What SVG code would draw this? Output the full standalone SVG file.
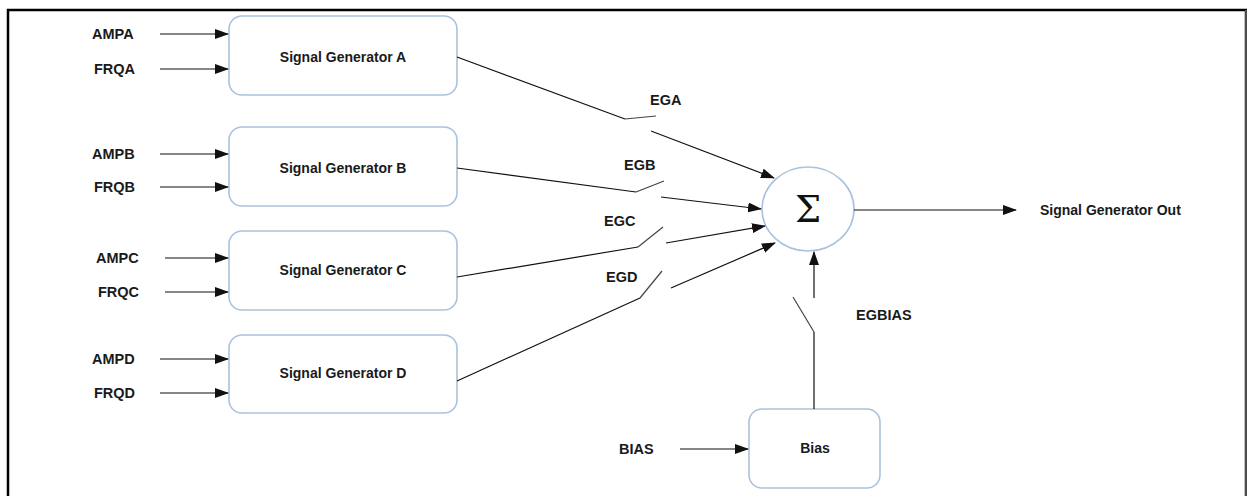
<svg xmlns="http://www.w3.org/2000/svg" width="1247" height="496" viewBox="0 0 1247 496">
<style>
.box{fill:#fff;stroke:#a9c2dd;stroke-width:1.6}
.t{font-family:"Liberation Sans",Arial,sans-serif;font-weight:bold;font-size:14.5px;fill:#1a1a1a}
.s{font-size:14px}
.c{text-anchor:middle}
.ln{stroke:#111;stroke-width:1.2;fill:none}
.sw{stroke:#444;stroke-width:1.2;fill:none}
.ar{stroke:#111;stroke-width:1.2;fill:none;marker-end:url(#ah)}
</style>
<defs>
<marker id="ah" markerWidth="14" markerHeight="10" refX="13" refY="5" orient="auto" markerUnits="userSpaceOnUse">
<path d="M0,0 L14,5 L0,10 Z" fill="#111"/>
</marker>
</defs>
<rect x="0" y="0" width="1247" height="496" fill="#fff"/>
<path d="M8,496 V10 H1246 V496" fill="none" stroke="#000" stroke-width="2.5"/>
<line x1="1246" y1="10" x2="1246" y2="496" stroke="#999" stroke-width="1"/>

<g id="genA">
<rect class="box" x="229" y="16" width="228" height="79" rx="13"/>
<text class="t s c" x="343" y="62">Signal Generator A</text>
</g>
<g id="genB">
<rect class="box" x="229" y="127" width="228" height="79" rx="13"/>
<text class="t s c" x="343" y="173">Signal Generator B</text>
</g>
<g id="genC">
<rect class="box" x="229" y="231" width="228" height="79" rx="13"/>
<text class="t s c" x="343" y="275">Signal Generator C</text>
</g>
<g id="genD">
<rect class="box" x="229" y="335" width="228" height="78" rx="13"/>
<text class="t s c" x="343" y="378">Signal Generator D</text>
</g>
<g id="bias">
<rect class="box" x="749" y="409" width="131" height="79" rx="13"/>
<text class="t s c" x="815" y="453">Bias</text>
</g>
<g id="sum">
<ellipse cx="808" cy="209" rx="46" ry="42" fill="#fff" stroke="#a9c2dd" stroke-width="1.6"/>
<text x="808" y="222" text-anchor="middle" font-family="'DejaVu Serif','Liberation Serif',serif" font-size="37" fill="#111">Σ</text>
</g>

<g id="labels">
<text class="t" x="92" y="39">AMPA</text>
<text class="t" x="94" y="74">FRQA</text>
<text class="t" x="92" y="159">AMPB</text>
<text class="t" x="94" y="192">FRQB</text>
<text class="t" x="96" y="263">AMPC</text>
<text class="t" x="98" y="297">FRQC</text>
<text class="t" x="92" y="364">AMPD</text>
<text class="t" x="94" y="398">FRQD</text>
<text class="t" x="619" y="454">BIAS</text>
<text class="t" x="650" y="105">EGA</text>
<text class="t" x="624" y="170">EGB</text>
<text class="t" x="604" y="226">EGC</text>
<text class="t" x="606" y="282">EGD</text>
<text class="t" x="856" y="320">EGBIAS</text>
<text class="t s" x="1040" y="215">Signal Generator Out</text>
</g>

<g id="connectors">
<line class="ar" x1="160" y1="34" x2="228" y2="34"/>
<line class="ar" x1="160" y1="69" x2="228" y2="69"/>
<line class="ar" x1="160" y1="154" x2="228" y2="154"/>
<line class="ar" x1="160" y1="187" x2="228" y2="187"/>
<line class="ar" x1="165" y1="258" x2="228" y2="258"/>
<line class="ar" x1="165" y1="292" x2="228" y2="292"/>
<line class="ar" x1="160" y1="359" x2="228" y2="359"/>
<line class="ar" x1="160" y1="393" x2="228" y2="393"/>
<line class="ar" x1="680" y1="449" x2="748" y2="449"/>

<polyline class="ln" points="457,57 625,119"/>
<line class="sw" x1="625" y1="119" x2="656" y2="116"/>
<line class="ar" x1="651" y1="131" x2="774" y2="178"/>

<polyline class="ln" points="457,168 636,192"/>
<line class="sw" x1="636" y1="192" x2="664" y2="181"/>
<line class="ar" x1="661" y1="197" x2="761" y2="209"/>

<polyline class="ln" points="457,277 638,247"/>
<line class="sw" x1="638" y1="247" x2="663" y2="227"/>
<line class="ar" x1="666" y1="243" x2="765" y2="226"/>

<polyline class="ln" points="457,381 640,298"/>
<line class="sw" x1="640" y1="298" x2="662" y2="271"/>
<line class="ar" x1="671" y1="288" x2="775" y2="243"/>

<line class="ln" x1="814" y1="409" x2="814" y2="332"/>
<line class="sw" x1="814" y1="332" x2="793" y2="297"/>
<line class="ar" x1="814" y1="298" x2="814" y2="252"/>

<line class="ar" x1="854" y1="210" x2="1016" y2="210"/>
</g>
</svg>
